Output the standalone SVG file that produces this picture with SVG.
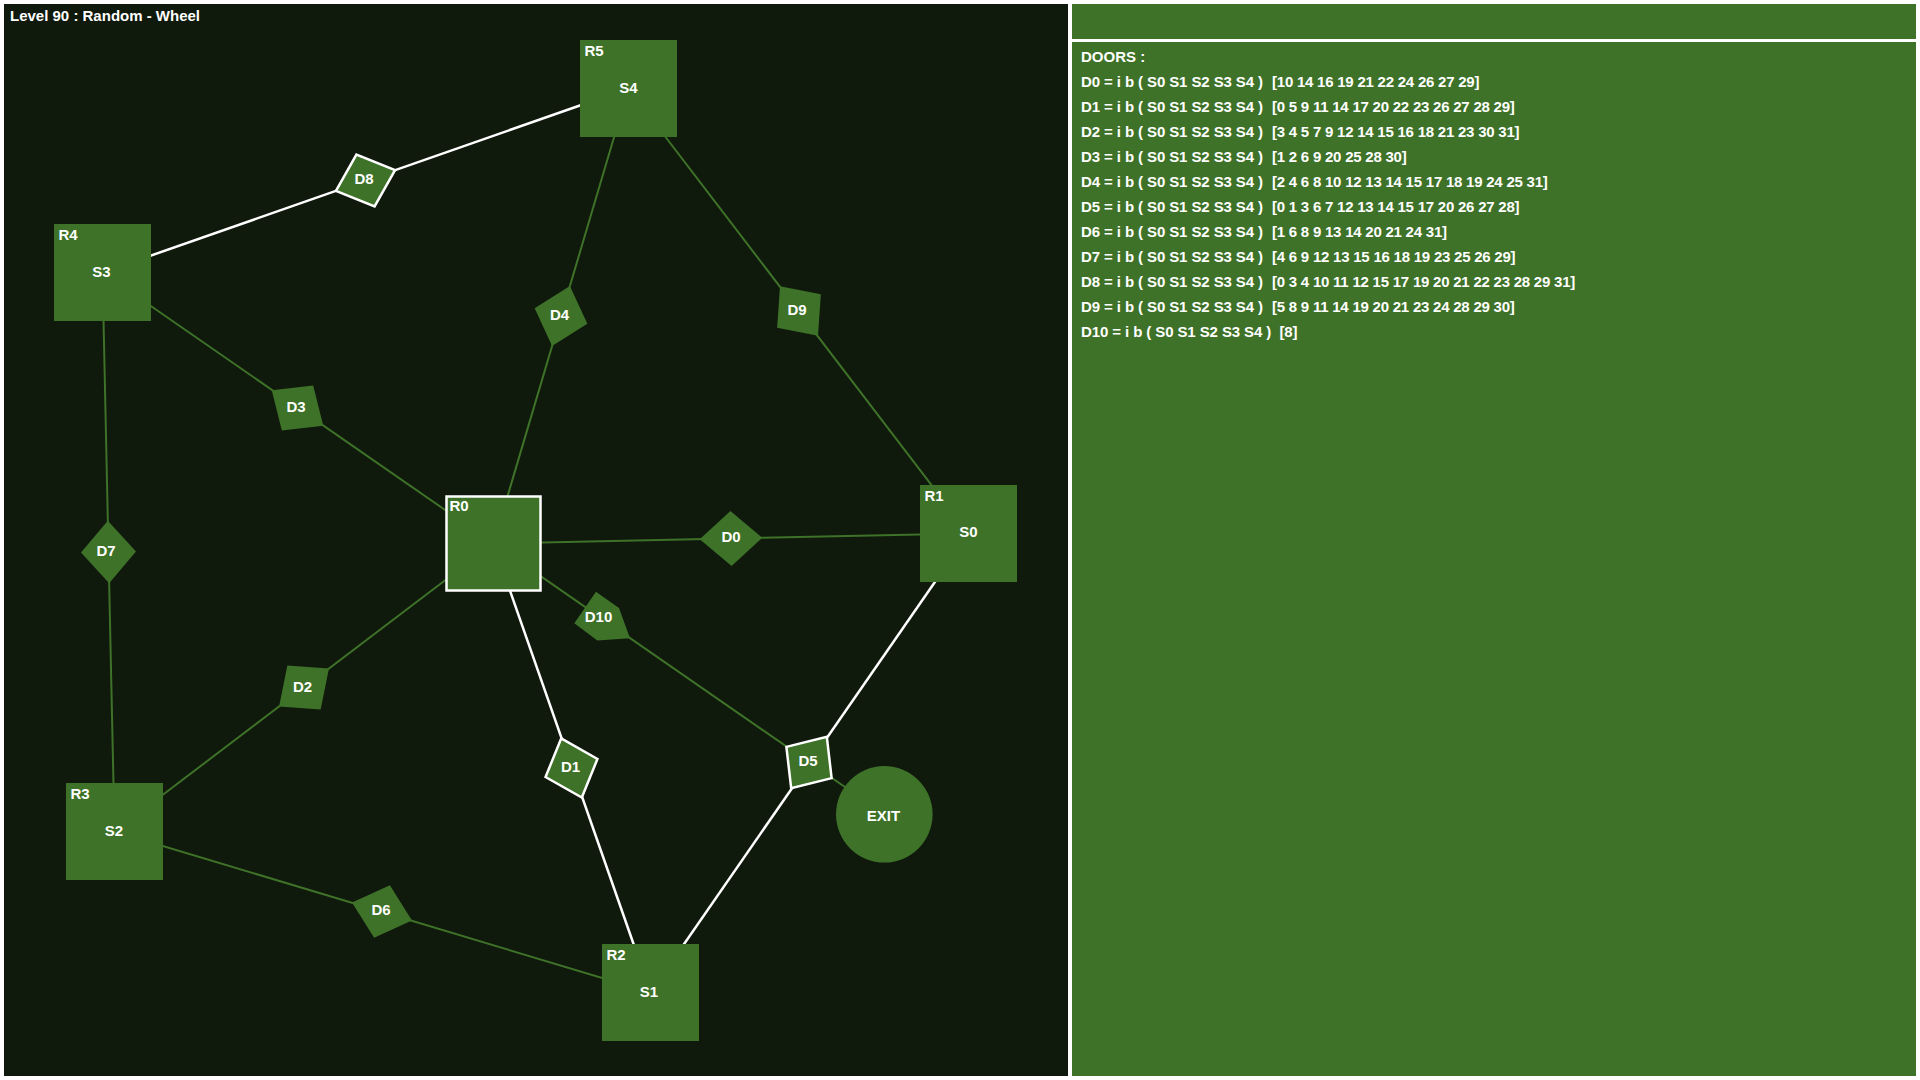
<svg xmlns="http://www.w3.org/2000/svg" xmlns:xlink="http://www.w3.org/1999/xlink" width="1920" height="1080" viewBox="0 0 1920 1080">
<style>
text{font-family:"Liberation Sans",Arial,sans-serif;font-weight:bold;font-size:15px;fill:#ffffff}
.c{text-anchor:middle}
.room{fill:#3e7228}
.door{fill:#3e7228}
.hl{stroke:#ffffff;stroke-width:2.5}
.lg{stroke:#3e7228;stroke-width:2;fill:none}
.lw{stroke:#ffffff;stroke-width:2.5;fill:none}
.p{letter-spacing:-0.1px}
.b{letter-spacing:-0.23px}
</style>
<defs>
<polygon id="rh" points="-31.3,0 0,-27.5 31.3,0 0,27.5"/>
</defs>
<rect x="0" y="0" width="1920" height="1080" fill="#ffffff"/>
<rect id="graph-panel" x="4" y="4" width="1064" height="1072" fill="#0f190c"/>
<g id="info-panel">
<rect x="1072" y="4" width="844" height="1072" fill="#3e7228"/>
<rect x="1072" y="39" width="844" height="3" fill="#ffffff"/>
<text x="1081" y="61.5">DOORS :</text>
<text class="p" x="1081" y="87">D0 = i b ( S0 S1 S2 S3 S4 )<tspan class="b" x="1272">[10 14 16 19 21 22 24 26 27 29]</tspan></text>
<text class="p" x="1081" y="112">D1 = i b ( S0 S1 S2 S3 S4 )<tspan class="b" x="1272">[0 5 9 11 14 17 20 22 23 26 27 28 29]</tspan></text>
<text class="p" x="1081" y="137">D2 = i b ( S0 S1 S2 S3 S4 )<tspan class="b" x="1272">[3 4 5 7 9 12 14 15 16 18 21 23 30 31]</tspan></text>
<text class="p" x="1081" y="162">D3 = i b ( S0 S1 S2 S3 S4 )<tspan class="b" x="1272">[1 2 6 9 20 25 28 30]</tspan></text>
<text class="p" x="1081" y="187">D4 = i b ( S0 S1 S2 S3 S4 )<tspan class="b" x="1272">[2 4 6 8 10 12 13 14 15 17 18 19 24 25 31]</tspan></text>
<text class="p" x="1081" y="212">D5 = i b ( S0 S1 S2 S3 S4 )<tspan class="b" x="1272">[0 1 3 6 7 12 13 14 15 17 20 26 27 28]</tspan></text>
<text class="p" x="1081" y="237">D6 = i b ( S0 S1 S2 S3 S4 )<tspan class="b" x="1272">[1 6 8 9 13 14 20 21 24 31]</tspan></text>
<text class="p" x="1081" y="262">D7 = i b ( S0 S1 S2 S3 S4 )<tspan class="b" x="1272">[4 6 9 12 13 15 16 18 19 23 25 26 29]</tspan></text>
<text class="p" x="1081" y="287">D8 = i b ( S0 S1 S2 S3 S4 )<tspan class="b" x="1272">[0 3 4 10 11 12 15 17 19 20 21 22 23 28 29 31]</tspan></text>
<text class="p" x="1081" y="312">D9 = i b ( S0 S1 S2 S3 S4 )<tspan class="b" x="1272">[5 8 9 11 14 19 20 21 23 24 28 29 30]</tspan></text>
<text class="p" x="1081" y="337">D10 = i b ( S0 S1 S2 S3 S4 )<tspan class="b" x="1279.5">[8]</tspan></text>
</g>
<text id="title" x="10" y="21">Level 90 : Random - Wheel</text>
<g id="connectors">
<line class="lg" x1="493.5" y1="543.5" x2="968.5" y2="533.5"/>
<line class="lw" x1="493.5" y1="543.5" x2="650.5" y2="992.5"/>
<line class="lg" x1="493.5" y1="543.5" x2="114.5" y2="831.5"/>
<line class="lg" x1="493.5" y1="543.5" x2="102.5" y2="272.5"/>
<line class="lg" x1="493.5" y1="543.5" x2="628.5" y2="88.5"/>
<line class="lw" x1="968.5" y1="533.5" x2="650.5" y2="992.5"/>
<line class="lg" x1="114.5" y1="831.5" x2="650.5" y2="992.5"/>
<line class="lg" x1="102.5" y1="272.5" x2="114.5" y2="831.5"/>
<line class="lw" x1="102.5" y1="272.5" x2="628.5" y2="88.5"/>
<line class="lg" x1="628.5" y1="88.5" x2="968.5" y2="533.5"/>
<line class="lg" x1="493.5" y1="543.5" x2="884.3" y2="814.3"/>
</g>
<g id="R0">
<rect class="room hl" x="446.5" y="496.5" width="94" height="94" stroke-width="3"/>
<text x="449.5" y="511">R0</text>
</g>
<g id="R1">
<rect class="room" x="920" y="485" width="97" height="97"/>
<text x="924.5" y="501">R1</text>
<text class="c" x="968.5" y="537">S0</text>
</g>
<g id="R2">
<rect class="room" x="602" y="944" width="97" height="97"/>
<text x="606.5" y="960">R2</text>
<text class="c" x="649" y="997">S1</text>
</g>
<g id="R3">
<rect class="room" x="66" y="783" width="97" height="97"/>
<text x="70.5" y="799">R3</text>
<text class="c" x="114" y="836">S2</text>
</g>
<g id="R4">
<rect class="room" x="54" y="224" width="97" height="97"/>
<text x="58.5" y="240">R4</text>
<text class="c" x="101.5" y="277">S3</text>
</g>
<g id="R5">
<rect class="room" x="580" y="40" width="97" height="97"/>
<text x="584.5" y="56">R5</text>
<text class="c" x="628.5" y="92.5">S4</text>
</g>
<g id="EXIT">
<circle class="room" cx="884.3" cy="814.3" r="48.3"/>
<text class="c" x="883.5" y="820.5">EXIT</text>
</g>
<g id="D0">
<use xlink:href="#rh" class="door" transform="translate(731,538.5) rotate(-1.21)"/>
<text class="c" x="731" y="542">D0</text>
</g>
<g id="D1">
<use xlink:href="#rh" class="door hl" transform="translate(571.5,768) rotate(70.73)"/>
<text class="c" x="570.5" y="772">D1</text>
</g>
<g id="D2">
<use xlink:href="#rh" class="door" transform="translate(304,687.5) rotate(-37.23)"/>
<text class="c" x="302.5" y="691.5">D2</text>
</g>
<g id="D3">
<use xlink:href="#rh" class="door" transform="translate(297.5,408) rotate(34.72)"/>
<text class="c" x="296" y="411.5">D3</text>
</g>
<g id="D4">
<use xlink:href="#rh" class="door" transform="translate(561,316) rotate(-73.47)"/>
<text class="c" x="559.5" y="319.5">D4</text>
</g>
<g id="D5">
<use xlink:href="#rh" class="door hl" transform="translate(809,762.5) rotate(-55.29)"/>
<text class="c" x="808" y="766">D5</text>
</g>
<g id="D6">
<use xlink:href="#rh" class="door" transform="translate(382,911.5) rotate(16.72)"/>
<text class="c" x="381" y="915">D6</text>
</g>
<g id="D7">
<use xlink:href="#rh" class="door" transform="translate(108.5,552) rotate(88.77)"/>
<text class="c" x="106" y="555.5">D7</text>
</g>
<g id="D8">
<use xlink:href="#rh" class="door hl" transform="translate(365.5,180.5) rotate(-19.28)"/>
<text class="c" x="364" y="183.5">D8</text>
</g>
<g id="D9">
<use xlink:href="#rh" class="door" transform="translate(799,311) rotate(52.62)"/>
<text class="c" x="797" y="314.5">D9</text>
</g>
<g id="D10">
<polygon class="door" points="596,591.7 619,608 630,638.3 597.3,640.5 574.3,623.3"/>
<text class="c" x="598.5" y="621.5">D10</text>
</g>
</svg>
